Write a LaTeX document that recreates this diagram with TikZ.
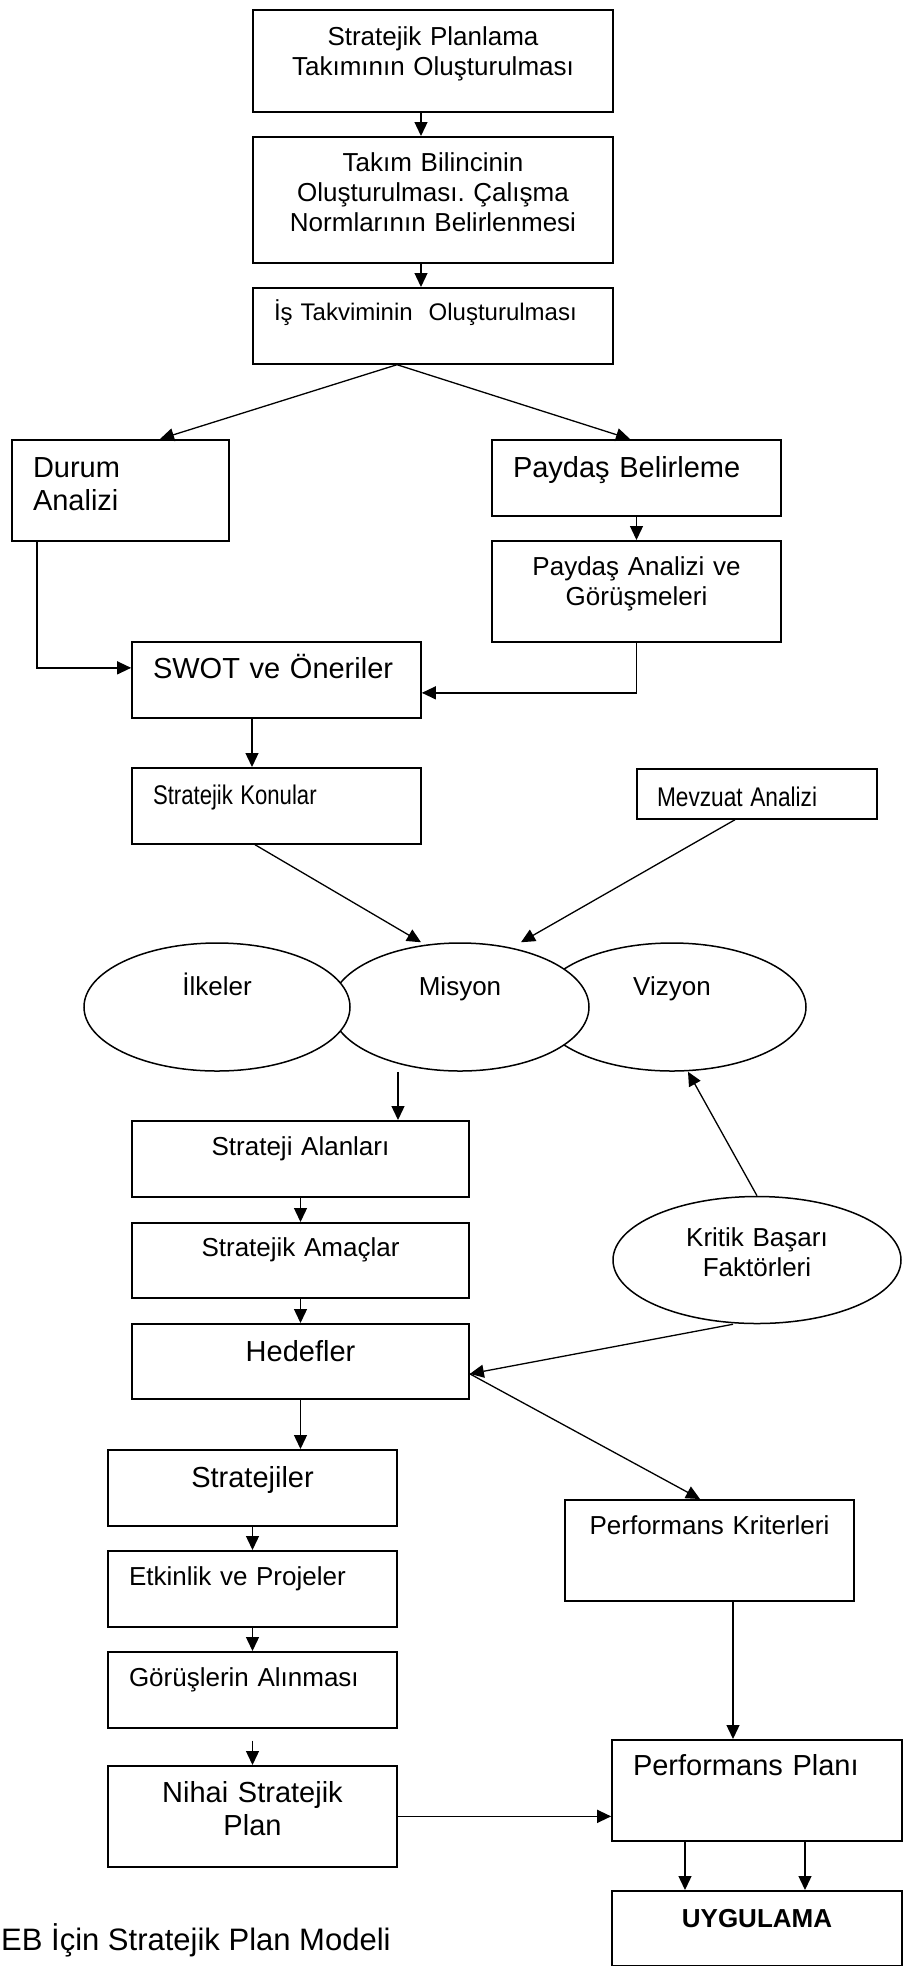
\documentclass[tikz,border=0pt]{standalone}
\usepackage{fontspec}
\usepackage{graphicx}
\setmainfont{Liberation Sans}
\usetikzlibrary{arrows.meta,shapes.geometric}
\frenchspacing

\begin{document}
\begin{tikzpicture}[x=1pt, y=-1pt,
  box/.style={draw, line width=1.7pt, rectangle, anchor=north, inner xsep=0pt, align=center, text height=20pt, font=\fontsize{26}{30}\selectfont},
  lbox/.style={box, inner xsep=21pt, align=left},
  big/.style={font=\fontsize{29}{33}\selectfont},
  narrow/.style={font=\fontsize{27}{31}\selectfont},
  oval/.style={ellipse, draw, line width=1.5pt, fill=white, inner sep=0pt, text height=20pt, font=\fontsize{26}{30}\selectfont},
  arr/.style={line width=1.3pt, -{Triangle[length=14pt,width=13pt]}}]

\useasboundingbox (0,0) rectangle (906,1966);

% Team and calendar
\node[box, text width=360pt, inner ysep=16pt, text depth=50pt] (plan) at (433,9) {Stratejik Planlama\\Takımının Oluşturulması};
\node[box, text width=360pt, inner ysep=15pt, text depth=76pt] (bilinc) at (433,136) {Takım Bilincinin\\Oluşturulması. Çalışma\\Normlarının Belirlenmesi};
\node[lbox, text width=318pt, inner ysep=13pt, text depth=30pt, font=\fontsize{24}{28}\selectfont] (takvim) at (433,287) {İş Takviminin\ \ Oluşturulması};

% Analyses
\node[lbox, big, text width=175pt, inner ysep=18pt, text depth=45pt] (durum) at (120.5,439) {Durum\\Analizi};
\node[lbox, big, text width=247pt, inner ysep=18pt, text depth=20pt] (paydas) at (636.5,439) {Paydaş Belirleme};
\node[box, text width=289pt, inner ysep=15pt, text depth=51pt] (paydasan) at (636.5,540) {Paydaş Analizi ve\\Görüşmeleri};
\node[lbox, big, text width=247pt, inner ysep=17pt, text depth=22pt] (swot) at (276.5,641) {SWOT ve Öneriler};
\node[lbox, narrow, text width=247pt, inner ysep=17pt, text depth=22pt] (konular) at (276.5,767) {\scalebox{0.82}[1]{Stratejik Konular}};
\node[lbox, narrow, text width=200pt, inner xsep=20pt, inner ysep=12pt, text height=26pt, text depth=0pt] (mevzuat) at (757,768) {\scalebox{0.84}[1]{Mevzuat Analizi}};

% Ellipses
\node[oval, minimum width=268pt, minimum height=128pt, text depth=44pt] (vizyon) at (672,1007) {Vizyon};
\node[oval, minimum width=258pt, minimum height=128pt, text depth=44pt] (misyon) at (460,1007) {Misyon};
\node[oval, minimum width=266pt, minimum height=128pt, text depth=44pt] (ilkeler) at (217,1007) {İlkeler};
\node[oval, minimum width=288pt, minimum height=127pt, text depth=48pt, text width=200pt, align=center] (kritik) at (757,1260) {Kritik Başarı\\Faktörleri};

% Strategy chain
\node[box, text width=337pt, inner ysep=15pt, text depth=26pt] (alanlar) at (300.5,1120) {Strateji Alanları};
\node[box, text width=337pt, inner ysep=14pt, text depth=27pt] (amaclar) at (300.5,1222) {Stratejik Amaçlar};
\node[box, big, text width=337pt, inner ysep=18pt, text depth=19pt] (hedefler) at (300.5,1323) {Hedefler};
\node[box, big, text width=289pt, inner ysep=18pt, text depth=20pt] (stratejiler) at (252.5,1449) {Stratejiler};
\node[lbox, text width=247pt, inner ysep=15pt, text depth=26pt] (etkinlik) at (252.5,1550) {Etkinlik ve Projeler};
\node[lbox, text width=247pt, inner ysep=15pt, text depth=26pt] (gorus) at (252.5,1651) {Görüşlerin Alınması};
\node[box, big, text width=289pt, inner ysep=17pt, text depth=47pt] (nihai) at (252.5,1765) {Nihai Stratejik\\Plan};

% Performance
\node[box, text width=289pt, inner ysep=15pt, text depth=51pt] (kriter) at (709.5,1499) {Performans Kriterleri};
\node[lbox, big, text width=248pt, inner ysep=16pt, text depth=49pt] (perfplan) at (757,1739) {Performans Planı};
\node[box, text width=290pt, inner ysep=17pt, text depth=21pt, font=\bfseries\fontsize{26}{30}\selectfont] (uygulama) at (757,1890) {UYGULAMA};

\node[anchor=base west, inner sep=0pt, font=\fontsize{31}{35}\selectfont] (baslik) at (1,1950) {EB İçin Stratejik Plan Modeli};

% Arrows
\draw[arr] ([xshift=-12pt]plan.south) -- ([xshift=-12pt]bilinc.north);
\draw[arr] ([xshift=-12pt]bilinc.south) -- ([xshift=-12pt]takvim.north);
\draw[arr] ([xshift=-36pt]takvim.south) -- ([xshift=39.5pt]durum.north);
\draw[arr] ([xshift=-36pt]takvim.south) -- ([xshift=-6.5pt]paydas.north);
\draw[arr] (paydas.south) -- (paydasan.north);
\draw[arr] ([xshift=-83.5pt]durum.south) |- ([yshift=12pt]swot.west);
\draw[arr] (paydasan.south) |- ([yshift=-13pt]swot.east);
\draw[arr] ([xshift=-24.5pt]swot.south) -- ([xshift=-24.5pt]konular.north);
\draw[arr] ([xshift=-21.5pt]konular.south) -- ([xshift=-39pt]misyon.north);
\draw[arr] ([xshift=-22pt]mevzuat.south) -- ([xshift=61pt]misyon.north);
\draw[arr] ([xshift=-62pt]misyon.south) -- ([xshift=97.5pt]alanlar.north);
\draw[arr] (kritik.north) -- ([xshift=16pt]vizyon.south);
\draw[arr] (alanlar.south) -- (amaclar.north);
\draw[arr] (amaclar.south) -- (hedefler.north);
\draw[arr] ([xshift=-24pt]kritik.south) -- ([yshift=-12.5pt]hedefler.east);
\draw[arr] ([yshift=-12.5pt]hedefler.east) -- ([xshift=-9.5pt]kriter.north);
\draw[arr] (hedefler.south) -- (hedefler.south |- stratejiler.north);
\draw[arr] (stratejiler.south) -- (etkinlik.north);
\draw[arr] (etkinlik.south) -- (gorus.north);
\draw[arr] ([yshift=-12pt]gorus.south) -- (nihai.north);
\draw[arr] (nihai.east) -- (nihai.east -| perfplan.west);
\draw[arr] ([xshift=23.5pt]kriter.south) -- ([xshift=23.5pt]kriter.south |- perfplan.north);
\draw[arr] ([xshift=-72pt]perfplan.south) -- ([xshift=-72pt]uygulama.north);
\draw[arr] ([xshift=48pt]perfplan.south) -- ([xshift=48pt]uygulama.north);

\end{tikzpicture}
\end{document}
